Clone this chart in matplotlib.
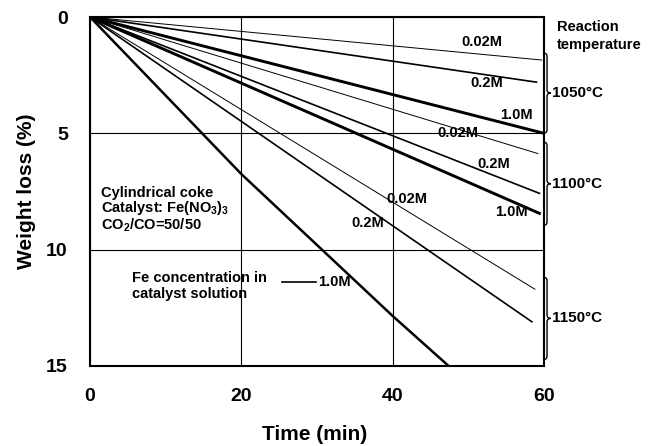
import numpy as np
from matplotlib import pyplot as plt
from matplotlib.path import Path
from matplotlib.patches import PathPatch

plt.rcParams['font.family'] = ['Liberation Sans', 'DejaVu Sans']
plt.rcParams['font.weight'] = 'bold'
plt.rcParams['mathtext.fontset'] = 'custom'
plt.rcParams['mathtext.rm'] = 'Liberation Sans:bold'
plt.rcParams['mathtext.it'] = 'Liberation Sans:bold'
plt.rcParams['mathtext.bf'] = 'Liberation Sans:bold'

# series: time (min) vs weight loss (%)
temps = ['1050', '1100', '1150']
concs = ['0.02M', '0.2M', '1.0M']

t_1050_002 = [0, 59.7];  w_1050_002 = [0, 1.85]
t_1050_02 = [0, 59.0];   w_1050_02 = [0, 2.8]
t_1050_10 = [0, 60.0];   w_1050_10 = [0, 5.0]
t_1100_002 = [0, 59.2];  w_1100_002 = [0, 5.87]
t_1100_02 = [0, 59.4];   w_1100_02 = [0, 7.58]
t_1100_10 = [0, 59.4];   w_1100_10 = [0, 8.44]
t_1150_002 = [0, 58.8];  w_1150_002 = [0, 11.7]
t_1150_02 = [0, 58.4];   w_1150_02 = [0, 13.1]
t_1150_10 = [0, 20, 40, 47.4];  w_1150_10 = [0, 6.75, 12.85, 15.0]

x_ticks = [0, 20, 40, 60]
y_ticks = [0, 5, 10, 15]

fig = plt.figure(figsize=(6.56, 4.46), dpi=100)
ax = fig.add_axes([90 / 656, 1 - 366 / 446, 454 / 656, 349 / 446])

# line widths by concentration
lw = {'0.02M': 0.7, '0.2M': 1.2, '1.0M': 2.1}

ax.plot(t_1050_002, w_1050_002, color='black', lw=lw['0.02M'])
ax.plot(t_1050_02, w_1050_02, color='black', lw=lw['0.2M'])
ax.plot(t_1050_10, w_1050_10, color='black', lw=lw['1.0M'])
ax.plot(t_1100_002, w_1100_002, color='black', lw=lw['0.02M'])
ax.plot(t_1100_02, w_1100_02, color='black', lw=lw['0.2M'])
ax.plot(t_1100_10, w_1100_10, color='black', lw=lw['1.0M'])
ax.plot(t_1150_002, w_1150_002, color='black', lw=lw['0.02M'])
ax.plot(t_1150_02, w_1150_02, color='black', lw=lw['0.2M'])
ax.plot(t_1150_10, w_1150_10, color='black', lw=1.8)

ax.set_xlim(0, 60)
ax.set_ylim(15, 0)
ax.set_xticks(x_ticks)
ax.set_yticks(y_ticks)
ax.tick_params(length=0, labelsize=14, pad=16)
for lab in ax.get_xticklabels() + ax.get_yticklabels():
    lab.set_fontweight('bold')
ax.grid(True, color='black', lw=0.8)
for sp in ax.spines.values():
    sp.set_linewidth(1.5)

fs = 10.5
# curve labels
ax.text(51.8, 1.08, '0.02M', fontsize=fs, ha='center', va='center')
ax.text(52.4, 2.84, '0.2M', fontsize=fs, ha='center', va='center')
ax.text(56.3, 4.22, '1.0M', fontsize=fs, ha='center', va='center')
ax.text(48.6, 5.0, '0.02M', fontsize=fs, ha='center', va='center')
ax.text(53.4, 6.33, '0.2M', fontsize=fs, ha='center', va='center')
ax.text(55.7, 8.39, '1.0M', fontsize=fs, ha='center', va='center')
ax.text(41.9, 7.83, '0.02M', fontsize=fs, ha='center', va='center')
ax.text(36.7, 8.87, '0.2M', fontsize=fs, ha='center', va='center')

# conditions
ax.text(1.45, 8.3, 'Cylindrical coke\nCatalyst: Fe(NO$_3$)$_3$\nCO$_2$/CO=50/50',
        fontsize=fs, va='center', linespacing=0.95)

# legend-like note
ax.text(5.55, 11.56, 'Fe concentration in\ncatalyst solution', fontsize=fs,
        va='center', linespacing=1.2)
ax.plot([25.4, 29.9], [11.4, 11.4], color='black', lw=1.2)
ax.text(30.2, 11.4, '1.0M', fontsize=fs, va='center')

# right side: reaction temperature with braces
ax.text(61.7, 0.82, 'Reaction\ntemperature', fontsize=fs, va='center',
        linespacing=1.3, clip_on=False)


def brace(top, bottom):
    xl, xv, xt = 59.97, 60.4, 60.9
    mid = (top + bottom) / 2
    d = 0.15
    verts = [(xl, top), (xv, top), (xv, top + d),
             (xv, mid - d), (xv, mid), (xt, mid),
             (xv, mid), (xv, mid + d),
             (xv, bottom - d), (xv, bottom), (xl, bottom)]
    codes = [Path.MOVETO, Path.CURVE3, Path.CURVE3,
             Path.LINETO, Path.CURVE3, Path.CURVE3,
             Path.CURVE3, Path.CURVE3,
             Path.LINETO, Path.CURVE3, Path.CURVE3]
    ax.add_patch(PathPatch(Path(verts, codes), fill=False, lw=1.0,
                           edgecolor='black', clip_on=False))
    return mid


brace_top = [1.55, 5.38, 11.19]
brace_bottom = [4.99, 8.95, 14.72]
for temp, top, bot in zip(temps, brace_top, brace_bottom):
    mid = brace(top, bot)
    ax.text(61.1, mid, temp + '°C', fontsize=11, va='center', clip_on=False)

fig.text(27 / 656, 1 - 191 / 446, 'Weight loss (%)', fontsize=15,
         fontweight='bold', rotation=90, ha='center', va='center')
fig.text(315 / 656, 1 - 435 / 446, 'Time (min)', fontsize=15,
         fontweight='bold', ha='center', va='center')

plt.savefig('out.png', dpi=100)
